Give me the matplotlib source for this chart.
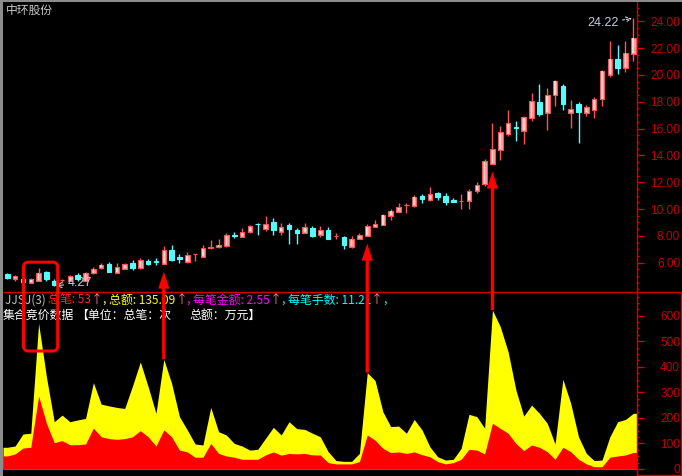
import matplotlib
matplotlib.use("Agg")
import matplotlib.pyplot as plt
import numpy as np
from matplotlib.patches import FancyBboxPatch, Rectangle, ArrowStyle
from matplotlib.lines import Line2D
from matplotlib.text import Annotation
from matplotlib.ticker import MultipleLocator, FixedLocator, FormatStrFormatter
from matplotlib.transforms import IdentityTransform

# ---------------- data ----------------
title = "中环股份"
opens = [5.17, 4.77, 4.77, 4.51, 4.66, 5.31, 4.66, 4.70, 4.62, 5.11,
         4.62, 5.21, 5.61, 5.90, 5.26, 5.55, 6.00, 5.61, 6.15, 6.15,
         5.90, 6.94, 6.45, 6.05, 6.63, 6.45, 7.12, 7.14, 7.24, 8.06,
         7.93, 8.28, 8.90, 8.48, 9.03, 8.28, 8.78, 8.43, 8.23, 8.58,
         8.08, 8.43, 7.97, 7.93, 7.19, 7.78, 7.99, 8.68, 8.78, 9.47,
         9.77, 10.29, 10.22, 10.96, 10.71, 11.16, 10.96, 10.66, 10.59, 10.61,
         11.35, 11.85, 13.36, 14.40, 15.57, 16.12, 15.81, 16.76, 17.95, 17.15,
         18.47, 19.21, 17.15, 17.87, 17.15, 17.35, 18.17, 20.03, 21.22, 20.55,
         21.59]
highs = [5.25, 5.11, 4.78, 4.86, 5.61, 5.41, 4.77, 4.81, 5.11, 5.26,
         5.30, 5.66, 6.00, 6.05, 6.00, 5.95, 6.20, 6.35, 6.30, 6.35,
         7.24, 7.29, 6.65, 6.80, 6.66, 7.29, 7.69, 7.74, 8.23, 8.28,
         8.58, 8.83, 8.97, 9.47, 9.32, 8.93, 8.93, 8.58, 8.93, 8.73,
         8.73, 8.63, 8.19, 7.99, 7.99, 8.19, 8.88, 9.17, 9.62, 10.01,
         10.46, 10.46, 11.06, 11.11, 11.65, 11.26, 11.16, 10.81, 11.11, 11.46,
         12.00, 13.73, 16.40, 16.16, 17.42, 16.54, 16.91, 18.62, 19.36, 19.06,
         19.66, 19.29, 18.10, 17.95, 17.73, 18.32, 20.40, 22.56, 22.26, 22.56,
         24.22]
lows = [4.81, 4.62, 4.56, 4.47, 4.62, 4.62, 4.27, 4.51, 4.60, 4.66,
        4.60, 5.16, 5.55, 5.31, 5.26, 5.50, 5.46, 5.55, 5.80, 5.80,
        5.90, 6.15, 5.95, 5.95, 6.10, 6.45, 7.00, 7.09, 7.14, 7.84,
        7.89, 8.23, 8.08, 8.38, 8.08, 8.08, 7.39, 7.39, 8.18, 7.89,
        7.93, 7.78, 7.78, 7.04, 7.09, 7.78, 7.99, 8.68, 8.78, 9.17,
        9.77, 9.72, 10.16, 10.46, 10.61, 10.71, 10.27, 10.51, 9.97, 9.97,
        11.16, 11.75, 13.36, 13.64, 15.42, 15.07, 14.88, 16.56, 16.91, 15.87,
        17.65, 17.35, 16.02, 14.92, 16.91, 16.76, 17.65, 19.88, 20.10, 20.25,
        21.07]
closes = [4.86, 5.01, 4.57, 4.77, 5.26, 4.81, 4.36, 4.73, 5.01, 4.81,
          5.26, 5.55, 5.85, 5.31, 5.66, 5.90, 5.61, 6.20, 5.90, 6.05,
          6.94, 6.20, 6.30, 6.55, 6.65, 7.09, 7.15, 7.34, 8.04, 8.02,
          8.28, 8.73, 8.85, 8.88, 8.43, 8.63, 8.53, 8.23, 8.63, 7.99,
          8.43, 7.78, 7.99, 7.29, 7.78, 8.04, 8.73, 8.88, 9.57, 9.87,
          10.16, 10.31, 10.91, 10.76, 11.11, 10.91, 10.56, 10.51, 10.61, 11.31,
          11.80, 13.56, 14.45, 15.72, 16.39, 16.08, 16.86, 18.02, 17.06, 18.47,
          19.58, 17.80, 17.43, 17.26, 17.58, 18.17, 20.33, 21.22, 20.55, 21.67,
          22.78]
# 集合竞价: 总额 (yellow) and 总笔 (red)
total_amount = [85, 90, 137, 140, 570, 361, 185, 211, 185, 192,
                198, 338, 254, 247, 241, 237, 325, 419, 322, 218,
                429, 335, 205, 153, 98, 94, 241, 146, 133, 100,
                90, 74, 77, 120, 163, 133, 185, 158, 155, 140,
                126, 68, 33, 30, 30, 61, 377, 346, 224, 166,
                168, 140, 194, 153, 87, 48, 35, 38, 81, 214,
                205, 160, 622, 557, 459, 309, 207, 250, 218, 179,
                98, 351, 257, 126, 61, 33, 35, 126, 185, 194,
                218]
total_count = [51, 59, 82, 85, 286, 179, 103, 111, 95, 95,
               98, 160, 126, 119, 116, 119, 126, 150, 126, 90,
               153, 126, 74, 67, 46, 46, 100, 61, 51, 46,
               38, 38, 38, 55, 67, 54, 61, 59, 61, 55,
               55, 25, 20, 20, 20, 29, 133, 113, 81, 64,
               67, 61, 67, 56, 48, 29, 20, 25, 38, 77,
               74, 59, 179, 159, 140, 100, 72, 94, 85, 68,
               38, 85, 68, 38, 20, 9, 9, 46, 51, 55,
               65]
price_ticks = [6, 8, 10, 12, 14, 16, 18, 20, 22, 24]
vol_ticks = [0, 100, 200, 300, 400, 500, 600]
signal_bars = [20, 46, 62]
mark_high = 24.22
mark_low = 4.27

header_segments = [("JJSJ(3) ", "#c0c0c0"), ("总笔: 53", "#ff2a2a"), ("↑", "#ff8080"),
                   (", ", "#ffff00"), ("总额: 135.09", "#ffff00"), ("↑", "#ff8080"),
                   (", ", "#ff00ff"), ("每笔金额: 2.55", "#ff00ff"), ("↑", "#ff8080"),
                   (", ", "#00ffff"), ("每笔手数: 11.21", "#00ffff"), ("↑", "#ff8080"),
                   (",", "#00ffff")]
subtitle_segments = ["集合竞价数据", "【单位：总笔：次", "总额：万元】"]

# ---------------- figure ----------------
W, H, DPI = 682, 476, 100
fig = plt.figure(figsize=(W / DPI, H / DPI), dpi=DPI, facecolor="black")
CJK = ["Noto Sans CJK SC", "DejaVu Sans"]
LAT = "Liberation Sans"

X0, X1 = 3.0, 637.3
Y_TOP, Y_SEP, Y_BOT = 2.0, 292.3, 476.0

def fx(p):
    return p / W

ax = fig.add_axes([fx(X0), 1 - Y_SEP / H, fx(X1 - X0), (Y_SEP - Y_TOP) / H])
axv = fig.add_axes([fx(X0), 1 - Y_BOT / H, fx(X1 - X0), (Y_BOT - Y_SEP) / H])
for a in (ax, axv):
    a.set_facecolor("none")
    for s in ("left", "top", "bottom"):
        a.spines[s].set_visible(False)
    a.spines["right"].set_color("#d40000")
    a.spines["right"].set_linewidth(1.0)
    a.set_xticks([])
    a.yaxis.tick_right()

n = len(opens)
idx = np.arange(n)
o = np.array(opens); c = np.array(closes); hi = np.array(highs); lo = np.array(lows)
xl = (-0.55, 80.51)
ax.set_xlim(*xl)
axv.set_xlim(*xl)
ax.set_ylim(3.79, 25.44)
axv.set_ylim(-27.4, 691.6)

up = c >= o
PINK_E, PINK_F, PINK_HL, CYAN = "#ff5252", "#ff9c9c", "#ffd2d2", "#54fcfc"
ax.vlines(idx[up], lo[up], hi[up], color=PINK_E, lw=1.0, zorder=2)
ax.vlines(idx[~up], lo[~up], hi[~up], color=CYAN, lw=1.0, zorder=2)
bh = np.abs(c - o)
bb = np.minimum(o, c)
ax.bar(idx[up], bh[up], bottom=bb[up], width=0.58, color=PINK_F,
       edgecolor=PINK_E, linewidth=0.8, zorder=3)
big = up & (bh > 0.12)
ax.bar(idx[big], bh[big] - 0.1, bottom=bb[big] + 0.05, width=0.22, color=PINK_HL,
       linewidth=0, zorder=4)
ax.bar(idx[~up], bh[~up], bottom=bb[~up], width=0.58, color=CYAN,
       edgecolor=CYAN, linewidth=0.8, zorder=3)

# lower panel stacked areas
xe = np.concatenate([[xl[0]], idx, [xl[1]]])
ta = np.array(total_amount, float)
tc = np.array(total_count, float)
axv.fill_between(xe, 0, np.concatenate([[ta[0]], ta, [ta[-1]]]), color="#ffff00", lw=0)
axv.fill_between(xe, 0, np.concatenate([[tc[0]], tc, [tc[-1]]]), color="#ff0000", lw=0)

# ticks
TICK_C, LAB_C = "#d40000", "#c00000"
def style_ticks(a, major, minor_step, fmt):
    a.yaxis.set_major_locator(FixedLocator(major))
    a.yaxis.set_minor_locator(MultipleLocator(minor_step))
    a.yaxis.set_major_formatter(FormatStrFormatter(fmt))
    a.tick_params(axis="y", which="major", length=5, width=1, color=TICK_C,
                  labelcolor=LAB_C, labelsize=8.6, pad=25.8,
                  right=True, left=False, labelright=True, labelleft=False)
    a.tick_params(axis="y", which="minor", length=1.6, width=1, color=TICK_C,
                  right=True, left=False)
    for t in a.yaxis.get_major_ticks():
        t.label2.set_horizontalalignment("right")
        t.label2.set_fontfamily(LAT)
style_ticks(ax, price_ticks, 0.5, "%.2f")
style_ticks(axv, vol_ticks, 25, "%d")

# high / low markers
ann_c = "#c4cfe0"
ax.annotate(f"{mark_high:.2f}", xy=(n - 1, mark_high), xytext=(-15, -4.7),
            textcoords="offset pixels", ha="right", va="center", color=ann_c,
            fontsize=9, fontfamily=LAT,
            arrowprops=dict(arrowstyle="->", color=ann_c, lw=0.8, ls=(0, (2, 1.5)),
                            shrinkA=1, shrinkB=1), annotation_clip=False)
ilow = int(np.argmin(lo))
ax.annotate(f"{mark_low:.2f}", xy=(ilow, mark_low), xytext=(13.5, 2.5),
            textcoords="offset pixels", ha="left", va="center", color=ann_c,
            fontsize=9, fontfamily=LAT,
            arrowprops=dict(arrowstyle="->", color=ann_c, lw=0.8,
                            shrinkA=1, shrinkB=1), annotation_clip=False)

# figure-level frame lines
def fline(x0, y0, x1, y1, color, lw=1.0):
    fig.add_artist(Line2D([x0, x1], [H - y0, H - y1], transform=IdentityTransform(),
                          color=color, lw=lw, solid_capstyle="butt"))
fline(X0, Y_SEP, W, Y_SEP, "#d40000")
fline(681.0, Y_SEP, 681.0, 475.0, "#d40000")
fline(638.3, 475.0, 681.0, 475.0, "#d40000")
fig.add_artist(Rectangle((0, 0), 3, H, transform=IdentityTransform(), color="#8c8c8c", lw=0))
fig.add_artist(Rectangle((0, H - 2), W, 2, transform=IdentityTransform(), color="#8c8c8c", lw=0))

# title
fig.text(fx(6), 1 - 10.5 / H, title, color="#c8c8c8", fontsize=8.5, family=CJK,
         ha="left", va="center")

# header text in lower panel
renderer = fig.canvas.get_renderer()
x = 5.0
for s, col in header_segments:
    t = fig.text(fx(x), 1 - 300 / H, s, color=col, fontsize=8.6, family=CJK,
                 ha="left", va="center")
    x = t.get_window_extent(renderer=renderer).x1
sub_x = [3.0, 76.0, 189.0]
for s, px in zip(subtitle_segments, sub_x):
    fig.text(fx(px), 1 - 315 / H, s, color="white", fontsize=8.6, family=CJK,
             ha="left", va="center")

# red signal arrows from auction peak up to candle
for i in signal_bars:
    arr = Annotation("", xy=(i, lo[i]), xycoords=ax.transData,
                     xytext=(i, ta[i]), textcoords=axv.transData,
                     arrowprops=dict(arrowstyle=ArrowStyle.Simple(head_length=1.22, head_width=0.8,
                                                                  tail_width=0.24),
                                     mutation_scale=10, fc="#ff0000", ec="none",
                                     shrinkA=0, shrinkB=5.5),
                     annotation_clip=False)
    arr.set_zorder(10)
    fig.add_artist(arr)

# highlight box around the early auction spike
box = FancyBboxPatch((23.5, H - 351.0), 57.7 - 23.5, 351.0 - 262.2,
                     boxstyle="round,pad=0,rounding_size=5", transform=IdentityTransform(),
                     fill=False, ec="#ff0000", lw=2.2, zorder=11)
fig.add_artist(box)

fig.savefig("out.png", dpi=DPI, facecolor="black")
